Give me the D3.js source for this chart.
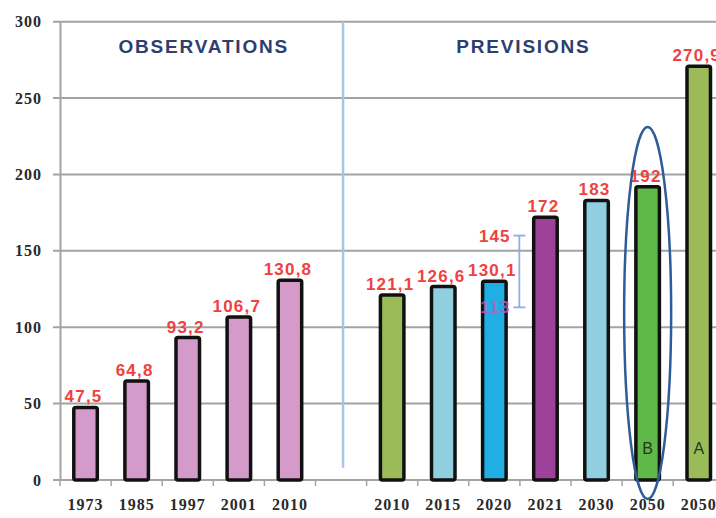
<!DOCTYPE html>
<html><head><meta charset="utf-8">
<script src="https://cdn.jsdelivr.net/npm/d3@7"></script>
<style>
html,body{margin:0;padding:0;background:#fff;}
svg{display:block;font-family:"Liberation Sans",Arial,sans-serif;}
</style></head>
<body>
<svg id="chart" width="716" height="518"></svg>
<script>
// ---- data ----
const slots = ["o1973","o1985","o1997","o2001","o2010","gap","p2010","p2015","p2020","p2021","p2030","p2050B","p2050A"];
const barKeys = ["o1973","o1985","o1997","o2001","o2010","p2010","p2015","p2020","p2021","p2030","p2050B","p2050A"];
const tickLabels = ["1973","1985","1997","2001","2010","","2010","2015","2020","2021","2030","2050","2050"];
const values = [47.5,64.8,93.2,106.7,130.8,121.1,126.6,130.1,172,183,192,270.9];
const valueLabels = ["47,5","64,8","93,2","106,7","130,8","121,1","126,6","130,1","172","183","192","270,9"];
const barColors = ["#d49bca","#d49bca","#d49bca","#d49bca","#d49bca","#9bbb59","#8fcfdf","#1fafe4","#9e4198","#8fcfdf","#5fb847","#9bbb59"];
const scenarioKeys = ["p2050B","p2050A"];
const scenarioLetters = ["B","A"];
const rangeKey = "p2020";
const rangeLabels = ["145","113"];
const rangeExtent = [160, 113]; // extent of the range bar as drawn in the picture
const yTicks = [0,50,100,150,200,250,300];
const sectionTitles = ["OBSERVATIONS","PREVISIONS"];

// ---- scales ----
const svg = d3.select("#chart");
const left = 60, step = 51.1;
const x = d3.scaleBand().domain(slots).range([left, left + step*slots.length]).paddingInner(0.54).paddingOuter(0.27);
const y = d3.scaleLinear().domain([0,300]).range([480,21.7]);
const xs = d3.scaleBand().domain(slots).range([left, left + step*slots.length]).padding(0);

// gridlines
svg.append("g").selectAll("line").data(yTicks).join("line")
  .attr("x1",53).attr("x2",716)
  .attr("y1",d=>y(d)).attr("y2",d=>y(d))
  .attr("stroke","#a3a3a3").attr("stroke-width",2);

// y axis
const yAxis = d3.axisLeft(y).tickValues(yTicks).tickSize(0).tickPadding(18);
const gy = svg.append("g").attr("transform",`translate(${left},0)`).call(yAxis);
gy.select(".domain").attr("stroke","#a3a3a3").attr("stroke-width",2);
gy.selectAll("text").attr("font-size",16).attr("fill","#2a2a2a").attr("letter-spacing","1px").attr("font-family","'Liberation Serif',serif").attr("font-weight","bold");

// x axis (labels at centres, ticks at boundaries)
const xAxis = d3.axisBottom(x).tickSize(0).tickPadding(19).tickFormat((d,i)=>tickLabels[i]);
const gx = svg.append("g").attr("transform","translate(0,480)").call(xAxis);
gx.select(".domain").remove();
gx.selectAll("text").attr("font-size",16).attr("fill","#2a2a2a").attr("font-family","'Liberation Serif',serif").attr("font-weight","bold").attr("letter-spacing","1px");
svg.append("line").attr("x1",53).attr("x2",716).attr("y1",y(0)).attr("y2",y(0)).attr("stroke","#a3a3a3").attr("stroke-width",2);
svg.append("g").selectAll("line").data(slots).join("line")
  .attr("x1",d=>xs(d)).attr("x2",d=>xs(d)).attr("y1",y(0)).attr("y2",y(0)+6)
  .attr("stroke","#a3a3a3").attr("stroke-width",1.5);

// divider
svg.append("line").attr("x1",xs("gap")+xs.bandwidth()/2+2).attr("x2",xs("gap")+xs.bandwidth()/2+2)
  .attr("y1",y(300)).attr("y2",y(8)).attr("stroke","#a9c4e4").attr("stroke-width",2.5);

// titles
svg.append("text").attr("x",(xs("o1973")+xs("o2010")+xs.bandwidth())/2 + 16).attr("y",y(279.5))
  .attr("text-anchor","middle").attr("font-size",19).attr("font-weight","bold").attr("letter-spacing","1.8px")
  .attr("fill","#2d3e6f").text(sectionTitles[0]);
svg.append("text").attr("x",(xs("p2010")+xs("p2050A")+xs.bandwidth())/2 - 22).attr("y",y(279.5))
  .attr("text-anchor","middle").attr("font-size",19).attr("font-weight","bold").attr("letter-spacing","1.8px")
  .attr("fill","#2d3e6f").text(sectionTitles[1]);

// bars
svg.append("g").selectAll("rect").data(values).join("rect")
  .attr("x",(d,i)=>x(barKeys[i]))
  .attr("y",d=>y(d))
  .attr("width",x.bandwidth())
  .attr("height",d=>y(0)-y(d))
  .attr("rx",2)
  .attr("fill",(d,i)=>barColors[i])
  .attr("stroke","#111").attr("stroke-width",3.5);

// value labels
svg.append("g").selectAll("text").data(values).join("text")
  .attr("x",(d,i)=>x(barKeys[i])+x.bandwidth()/2 - 2)
  .attr("y",d=>y(d)-5)
  .attr("text-anchor","middle").attr("font-size",17).attr("font-weight","bold")
  .attr("fill","#f0413f").attr("letter-spacing","1.2px")
  .text((d,i)=>valueLabels[i]);

// range (error bar) on 2020
const ex = x(rangeKey)+x.bandwidth()/2 + 25;
const eg = svg.append("g").attr("stroke","#8fb0dc").attr("stroke-width",1.8);
eg.append("line").attr("x1",ex).attr("x2",ex).attr("y1",y(rangeExtent[0])).attr("y2",y(rangeExtent[1]));
eg.selectAll(".cap").data(rangeExtent).join("line").attr("class","cap")
  .attr("x1",ex-6).attr("x2",ex+6).attr("y1",d=>y(d)).attr("y2",d=>y(d));
svg.append("text").attr("x",ex-9).attr("y",y(rangeExtent[0])+6).attr("text-anchor","end")
  .attr("font-size",17).attr("font-weight","bold").attr("letter-spacing","1px").attr("fill","#f0413f").text(rangeLabels[0]);
svg.append("text").attr("x",ex-9).attr("y",y(rangeExtent[1])+6).attr("text-anchor","end")
  .attr("font-size",17).attr("font-weight","bold").attr("letter-spacing","1px").attr("fill","#c457c4").attr("opacity",0.8).text(rangeLabels[1]);

// scenario letters
svg.append("g").selectAll("text").data(scenarioKeys).join("text")
  .attr("x",d=>x(d)+x.bandwidth()/2).attr("y",y(17))
  .attr("text-anchor","middle").attr("font-size",16).attr("fill","#1e3a1e")
  .text((d,i)=>scenarioLetters[i]);

// ellipse around scenario B
const bx = x("p2050B")+x.bandwidth()/2;
svg.append("ellipse").attr("cx",bx).attr("cy",(y(231)+499)/2)
  .attr("rx",23.5).attr("ry",(499-y(231))/2)
  .attr("fill","none").attr("stroke","#2f5b97").attr("stroke-width",2.5);
</script>
</body></html>
